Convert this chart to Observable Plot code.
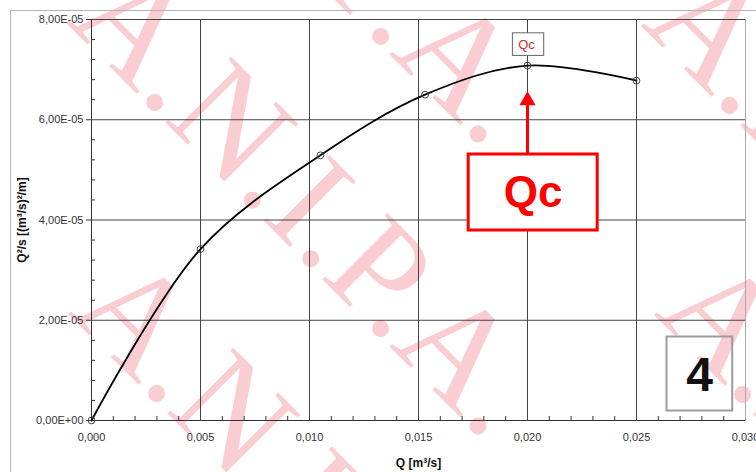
<!DOCTYPE html>
<html>
<head>
<meta charset="utf-8">
<script src="https://cdn.jsdelivr.net/npm/d3@7"></script>
<script src="https://cdn.jsdelivr.net/npm/@observablehq/plot@0.6"></script>
<style>
  html, body { margin: 0; padding: 0; background: white; }
  #wrap { position: relative; width: 756px; height: 472px; overflow: hidden; }
  #wm { position: absolute; left: 0; top: 0; z-index: 0; }
  #chart { position: absolute; left: 0; top: 0; z-index: 1; }
</style>
</head>
<body>
<div id="wrap"><svg id="wm" width="756" height="472"></svg><div id="chart"></div></div>
<script>
// ---- data ----
const Q = [0, 0.005, 0.0105, 0.0153, 0.020, 0.025];            // m3/s
const Q2s = [0, 3.42e-5, 5.29e-5, 6.50e-5, 7.08e-5, 6.78e-5];   // (m3/s)^2/m
const xTicks = [0, 0.005, 0.010, 0.015, 0.020, 0.025, 0.030];
const yTicks = [0, 2e-5, 4e-5, 6e-5, 8e-5];
const xTitle = "Q [m³/s]";
const yTitle = "Q²/s [(m³/s)²/m]";
const qcLabel = "Qc";
const panelLabel = "4";
const watermarkText = "A.N.I.P.A.";

const points = Q.map((q, i) => ({q, v: Q2s[i]}));
const peak = [points[d3.maxIndex(Q2s)]];
const xMinor = d3.range(1, 30).filter(i => i % 5 !== 0).map(i => i / 1000);
const yMinor = d3.range(1, 20).filter(i => i % 5 !== 0).map(i => i * 0.4e-5);

const fmtX = d => d3.format(".3f")(d).replace(".", ",");
const fmtY = d => {
  if (d === 0) return "0,00E+00";
  const [m, e] = d.toExponential(2).split("e");
  const ex = +e;
  return m.replace(".", ",") + "E" + (ex < 0 ? "-" : "+") + String(Math.abs(ex)).padStart(2, "0");
};

// ---- watermark (decorative) ----
const wm = d3.select("#wm");
[[65, -270], [65, 22], [67, 313], [640, 25], [653, 314]].forEach(([tx, ty]) => {
  wm.append("text")
    .attr("transform", `translate(${tx},${ty}) rotate(45)`)
    .attr("font-family", "Liberation Serif, Times New Roman, serif")
    .attr("font-size", 142)
    .attr("fill", "#f9cdd1")
    .text(watermarkText);
});

// ---- chart ----
const chart = Plot.plot({
  width: 756,
  height: 472,
  marginLeft: 91,
  marginRight: 11,
  marginTop: 19,
  marginBottom: 52,
  x: {domain: [0, 0.03]},
  y: {domain: [0, 8e-5]},
  style: {background: "transparent", fontFamily: "Liberation Sans, Arial, sans-serif", fontSize: "11px", color: "#333", overflow: "hidden"},
  marks: [
    Plot.frame({insetLeft: -81, insetTop: -9, insetRight: -40, insetBottom: -80, stroke: "#b4b4b4"}),
    Plot.frame({stroke: "#a8a8a8"}),
    Plot.gridX(xTicks.filter(d => d > 0 && d < 0.03), {stroke: "#444", strokeOpacity: 1}),
    Plot.gridY(yTicks.filter(d => d > 0), {stroke: "#444", strokeOpacity: 1}),
    Plot.axisY(yTicks, {tickSize: 5, tickPadding: 3, tickFormat: fmtY, label: null, stroke: "#333"}),
    Plot.axisX(xTicks, {tickSize: 0, tickPadding: 13, tickFormat: fmtX, label: null}),
    Plot.ruleX(xMinor, {x: d => d, y1: 0, y2: 0, insetTop: -4, stroke: "#333"}),
    Plot.ruleY(yMinor, {y: d => d, x1: 0, x2: 0, insetRight: -4, stroke: "#333"}),
    Plot.ruleX([0], {stroke: "#333"}),
    Plot.ruleY([0], {stroke: "#333"}),
    Plot.line(points, {x: "q", y: "v", curve: "catmull-rom", stroke: "#000", strokeWidth: 1.8}),
    Plot.dot(points, {x: "q", y: "v", r: 3.4, stroke: "#444", strokeWidth: 1, fill: "none"}),
    // small Qc label
    Plot.rect(peak, {x1: "q", x2: "q", y1: "v", y2: "v", insetLeft: -14.6, insetRight: -16.7, insetTop: -32.3, insetBottom: 9.7, fill: "white", stroke: "#666", strokeWidth: 1}),
    Plot.text(peak, {x: "q", y: "v", text: () => qcLabel, dx: -1, dy: -21, fontSize: 13, fill: "#d42a2a"}),
    // red arrow
    Plot.ruleX(peak, {x: "q", y1: "v", y2: "v", insetTop: 40, insetBottom: -88, stroke: "red", strokeWidth: 3}),
    Plot.dot(peak, {x: "q", y: "v", symbol: "triangle", r: 6, fill: "red", stroke: "none", dy: 35}),
    // red box
    Plot.rect(peak, {x1: "q", x2: "q", y1: "v", y2: "v", insetLeft: -58.8, insetRight: -70.2, insetTop: 88.9, insetBottom: -164.9, fill: "white", stroke: "red", strokeWidth: 3}),
    Plot.text(peak, {x: "q", y: "v", text: () => qcLabel, dx: 5.7, dy: 127.6, fontSize: 44, fontWeight: "bold", fill: "red"}),
    // panel number
    Plot.frame({insetLeft: 575, insetRight: 13.3, insetTop: 317, insetBottom: 10, stroke: "#9c9c9c", strokeWidth: 2}),
    Plot.text([panelLabel], {text: d => d, frameAnchor: "bottom-right", textAnchor: "middle", lineAnchor: "middle", dx: -46, dy: -44.4, fontSize: 48, fontWeight: "bold", fill: "#111"}),
    // axis titles
    Plot.text([yTitle], {text: d => d, frameAnchor: "left", rotate: -90, textAnchor: "middle", lineAnchor: "middle", dx: -69, fontSize: 12, fontWeight: "bold", fill: "#111"}),
    Plot.text([xTitle], {text: d => d, frameAnchor: "bottom", textAnchor: "middle", lineAnchor: "middle", dy: 43, fontSize: 12, fontWeight: "bold", fill: "#111"})
  ]
});
document.getElementById("chart").appendChild(chart);
</script>
</body>
</html>
